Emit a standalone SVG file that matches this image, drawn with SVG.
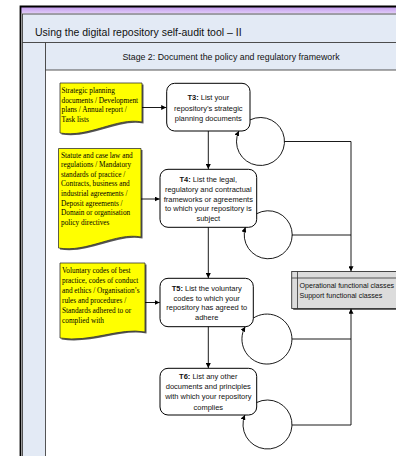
<svg xmlns="http://www.w3.org/2000/svg" width="396" height="456" viewBox="0 0 396 456">
<defs>
<linearGradient id="band" x1="0" y1="0" x2="0" y2="1">
<stop offset="0" stop-color="#c59bef"/>
<stop offset="1" stop-color="#e0cdf7"/>
</linearGradient>
<marker id="ah" markerUnits="userSpaceOnUse" markerWidth="6" markerHeight="5" refX="5" refY="2.5" orient="auto">
<path d="M0,0 L5,2.5 L0,5 Z" fill="#000"/>
</marker>
</defs>
<style>
.frame{fill:#e3eaf5;stroke:#444;stroke-width:0.9}
.doc{fill:#ffff00;stroke:#333;stroke-width:0.8}
.shadow{fill:#555}
.dt{font-family:"Liberation Serif","Times New Roman",serif;font-size:7.3px;fill:#000}
.box{fill:#fff;stroke:#000;stroke-width:1}
.bt{font-family:"Liberation Sans",Arial,sans-serif;font-size:7.5px;fill:#111;text-anchor:middle}
.bt tspan.b{font-weight:bold}
.cls{fill:#dcdcdc;stroke:#333;stroke-width:0.9}
.ct{font-family:"Liberation Sans",Arial,sans-serif;font-size:7.1px;fill:#111}
.c{fill:none;stroke:#000;stroke-width:0.9}
.a{marker-end:url(#ah)}
</style>
<rect x="0" y="0" width="396" height="456" fill="#fff"/>
<g id="frame">
<rect x="21" y="7" width="380" height="6.5" fill="url(#band)"/>
<rect class="frame" x="22.5" y="14" width="380" height="28.5"/>
<rect class="frame" x="22.5" y="42.5" width="23" height="420"/>
<rect class="frame" x="45.5" y="42.5" width="360" height="27.5"/>
<path d="M20.5,460 V6.5 H400" fill="none" stroke="#000" stroke-width="1.8"/>
<text x="35" y="35.5" font-family="'Liberation Sans',Arial,sans-serif" font-size="10.5" fill="#111">Using the digital repository self-audit tool – II</text>
<text x="231" y="59.5" text-anchor="middle" font-family="'Liberation Sans',Arial,sans-serif" font-size="8.8" fill="#111">Stage 2: Document the policy and regulatory framework</text>
</g>
<g id="doc1">
<path class="shadow" transform="translate(1.5,1.5)" d="M60,83 H142 V122 C117,117 89,138 60,133 Z"/>
<path class="doc" d="M60,83 H142 V122 C117,117 89,138 60,133 Z"/>
<text class="dt"><tspan x="61.5" y="93">Strategic planning</tspan><tspan x="61.5" y="102.5">documents / Development</tspan><tspan x="61.5" y="112">plans / Annual report /</tspan><tspan x="61.5" y="121.5">Task lists</tspan></text>
</g>
<g id="doc2">
<path class="shadow" transform="translate(1.5,1.5)" d="M58.5,148.5 H141 V237 C116,232 87,253 58.5,248 Z"/>
<path class="doc" d="M58.5,148.5 H141 V237 C116,232 87,253 58.5,248 Z"/>
<text class="dt"><tspan x="61" y="157.5">Statute and case law and</tspan><tspan x="61" y="167.1">regulations / Mandatory</tspan><tspan x="61" y="176.7">standards of practice /</tspan><tspan x="61" y="186.3">Contracts, business and</tspan><tspan x="61" y="195.9">industrial agreements /</tspan><tspan x="61" y="205.5">Deposit agreements /</tspan><tspan x="61" y="215.1">Domain or organisation</tspan><tspan x="61" y="224.7">policy directives</tspan></text>
</g>
<g id="doc3">
<path class="shadow" transform="translate(1.5,1.5)" d="M60,263 H145 V332 C120,327 90,343 60,338 Z"/>
<path class="doc" d="M60,263 H145 V332 C120,327 90,343 60,338 Z"/>
<text class="dt"><tspan x="62" y="272.5">Voluntary codes of best</tspan><tspan x="62" y="282.5">practice, codes of conduct</tspan><tspan x="62" y="292.5">and ethics / Organisation’s</tspan><tspan x="62" y="302.5">rules and procedures /</tspan><tspan x="62" y="312.5">Standards adhered to or</tspan><tspan x="62" y="322.5">complied with</tspan></text>
</g>
<g id="t3">
<rect class="box" x="166.7" y="83.3" width="83.3" height="47.7" rx="8"/>
<text class="bt"><tspan x="208.3" y="99.5"><tspan class="b">T3:</tspan> List your</tspan><tspan x="208.3" y="111">repository’s strategic</tspan><tspan x="208.3" y="120.7">planning documents</tspan></text>
</g>
<g id="t4">
<rect class="box" x="160" y="169.3" width="96.7" height="58" rx="8"/>
<text class="bt"><tspan x="208.3" y="182"><tspan class="b">T4:</tspan> List the legal,</tspan><tspan x="208.3" y="192">regulatory and contractual</tspan><tspan x="208.3" y="201.5">frameworks or agreements</tspan><tspan x="208.3" y="211">to which your repository is</tspan><tspan x="208.3" y="220.7">subject</tspan></text>
</g>
<g id="t5">
<rect class="box" x="160" y="278.3" width="93.3" height="48.4" rx="8"/>
<text class="bt"><tspan x="206.7" y="291"><tspan class="b">T5:</tspan> List the voluntary</tspan><tspan x="206.7" y="300.7">codes to which your</tspan><tspan x="206.7" y="310.2">repository has agreed to</tspan><tspan x="206.7" y="319.5">adhere</tspan></text>
</g>
<g id="t6">
<rect class="box" x="160" y="368.3" width="96.7" height="46.7" rx="8"/>
<text class="bt"><tspan x="208.3" y="378.8"><tspan class="b">T6:</tspan> List any other</tspan><tspan x="208.3" y="388.8">documents and principles</tspan><tspan x="208.3" y="399.3">with which your repository</tspan><tspan x="208.3" y="409.7">complies</tspan></text>
</g>
<g id="classes">
<rect x="293.2" y="273" width="120" height="37" fill="#666"/>
<rect class="cls" x="291.7" y="271.5" width="120" height="37"/>
<line x1="297.5" y1="271.5" x2="297.5" y2="308.5" stroke="#333" stroke-width="0.8"/>
<line x1="291.7" y1="278" x2="400" y2="278" stroke="#333" stroke-width="0.8"/>
<text class="ct"><tspan x="299.5" y="287.7">Operational functional classes</tspan><tspan x="299.5" y="297.7">Support functional classes</tspan></text>
</g>
<g id="connectors">
<path class="c a" d="M142,107.5 H166.2"/>
<path class="c a" d="M141,199 H159.7"/>
<path class="c a" d="M145,302.5 H159.7"/>
<path class="c a" d="M208.3,131 V169"/>
<path class="c a" d="M208.3,227.3 V278"/>
<path class="c a" d="M208.3,326.7 V368"/>
<path class="c a" d="M250,119.9 A24 24 0 1 1 238.9,131"/>
<path class="c a" d="M256.7,213.7 A24 24 0 1 1 245.4,227.3"/>
<path class="c a" d="M253.3,318.1 A25 25 0 1 1 245.2,326.7"/>
<path class="c a" d="M256.7,402.5 A24.5 24.5 0 1 1 244.9,415"/>
<path class="c a" d="M284.5,141.5 H351 V271.2"/>
<path class="c" d="M291.8,235 H351"/>
<path class="c a" d="M292,425 H351 V308.8"/>
<path class="c" d="M292,339 H351"/>
</g>
</svg>
